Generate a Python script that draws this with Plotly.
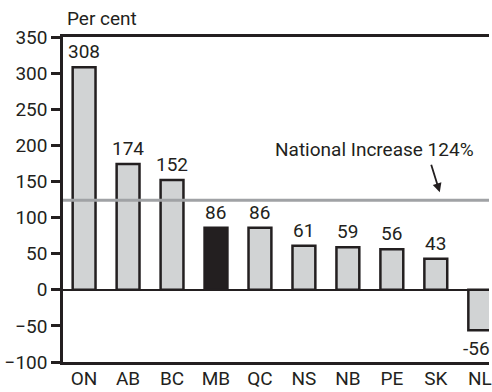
import plotly.graph_objects as go

# Provincial change, per cent
provinces = ["ON", "AB", "BC", "MB", "QC", "NS", "NB", "PE", "SK", "NL"]
change_pct = [308, 174, 152, 86, 86, 61, 59, 56, 43, -56]
national_pct = 124

ink = "#231f20"
bar_grey = "#d1d3d4"
line_grey = "#a0a2a5"
font_family = "Roboto, Noto Sans, sans-serif"

fill = [ink if p == "MB" else bar_grey for p in provinces]

fig = go.Figure(
    go.Bar(
        x=list(range(len(provinces))),
        y=change_pct,
        width=0.52,
        marker=dict(color=fill, line=dict(color=ink, width=2.5)),
        hoverinfo="skip",
    )
)

# value labels above (or below) each bar
for i, v in enumerate(change_pct):
    fig.add_annotation(
        x=i, y=v, text=str(v), showarrow=False,
        yanchor="bottom" if v >= 0 else "top",
        yshift=2 if v >= 0 else -5,
        xshift=0 if v >= 0 else -3,
        font=dict(size=19, color=ink, family=font_family),
    )

# national reference line
fig.add_shape(
    type="line", xref="paper", x0=0, x1=1, yref="y", y0=national_pct, y1=national_pct,
    line=dict(color=line_grey, width=3), layer="above",
)
fig.add_annotation(
    x=6.6, y=194, xref="x", yref="y", text=f"National Increase {national_pct}%",
    showarrow=False, font=dict(size=19, color=ink, family=font_family),
)
fig.add_annotation(
    x=8.09, y=national_pct + 11, xref="x", yref="y", text="",
    showarrow=True, arrowhead=2, arrowsize=1, arrowwidth=1.8, arrowcolor=ink,
    axref="pixel", ayref="pixel", ax=-9, ay=-29,
)

fig.add_annotation(
    x=0, y=1, xref="paper", yref="paper", text="Per cent", showarrow=False,
    xanchor="left", yanchor="bottom", xshift=2, yshift=5,
    font=dict(size=19, color=ink, family=font_family),
)

fig.update_layout(
    width=492, height=392,
    margin=dict(l=63, r=0, t=37, b=30),
    paper_bgcolor="white", plot_bgcolor="white",
    showlegend=False,
    font=dict(family=font_family, size=19, color=ink),
    xaxis=dict(
        range=[-0.48, 9.21],
        tickmode="array", tickvals=list(range(len(provinces))), ticktext=provinces,
        ticklabeloverflow="allow", ticklabelstandoff=-3,
        showline=True, linecolor=ink, linewidth=2.5, mirror=True,
        ticks="", showgrid=False, zeroline=False,
    ),
    yaxis=dict(
        range=[-100, 350], tickvals=list(range(-100, 351, 50)),
        showline=True, linecolor=ink, linewidth=2.5,
        ticks="outside", ticklen=9, tickwidth=2.5, tickcolor=ink,
        showgrid=False, zeroline=True, zerolinecolor=ink, zerolinewidth=2,
    ),
)

fig.write_html("out.html")
